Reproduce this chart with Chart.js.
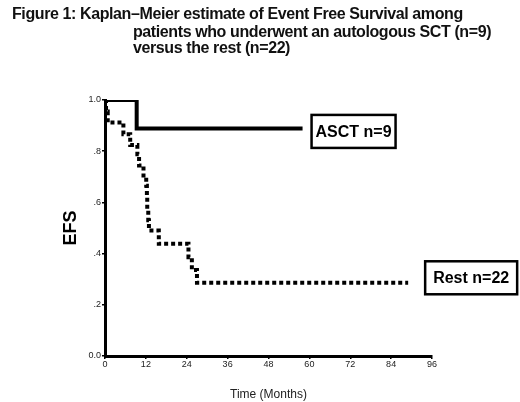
<!DOCTYPE html>
<html><head><meta charset="utf-8">
<script src="https://cdn.jsdelivr.net/npm/chart.js@4.4.1/dist/chart.umd.min.js"></script>
<style>
html,body{margin:0;padding:0;background:#fff;}
#wrap{position:relative;width:520px;height:402px;overflow:hidden;}
#chart{position:absolute;left:0;top:0;}
.t{position:absolute;font-family:"Liberation Sans",Arial,sans-serif;font-weight:bold;font-size:16px;letter-spacing:-0.4px;color:#111;white-space:nowrap;line-height:16px;}
</style></head><body>
<div id="wrap">
<canvas id="chart" width="520" height="402"></canvas>
<div class="t" style="left:12px;top:6px">Figure 1: Kaplan–Meier estimate of Event Free Survival among</div>
<div class="t" style="left:133px;top:24px">patients who underwent an autologous SCT (n=9)</div>
<div class="t" style="left:133px;top:40px">versus the rest (n=22)</div>
</div>
<script>
// ---- data ----
const seriesNames = ['ASCT n=9', 'Rest n=22'];
const ascTimes = [0, 9.3, 58];
const ascEFS   = [1.0, 0.889, 0.889];
const restTimes = [0, 0.3, 0.8, 5.4, 7.4, 9.5, 10.0, 11.3, 12.1, 12.3, 12.4, 12.7, 12.9, 15.8, 24.5, 25.5, 27.0, 89];
const restEFS   = [1.0, 0.955, 0.912, 0.866, 0.824, 0.788, 0.744, 0.705, 0.665, 0.620, 0.575, 0.530, 0.490, 0.438, 0.386, 0.336, 0.286, 0.286];
const xTickValues = [0, 12, 24, 36, 48, 60, 72, 84, 96];
const yTickValues = [0, 0.2, 0.4, 0.6, 0.8, 1.0];
const yTickLabels = ['0.0', '.2', '.4', '.6', '.8', '1.0'];
const xTitle = 'Time (Months)';
const yTitle = 'EFS';

const toPts = (ts, vs) => ts.map((t, i) => ({x: t, y: vs[i]}));

// label box styles (per dataset)
const boxStyle = [
  {gap: 9, dy: 3, w: 84, h: 33},
  {gap: 17, dy: -5, w: 92, h: 33}
];

const labelBoxes = {
  id: 'labelBoxes',
  afterDatasetsDraw(chart) {
    const {ctx, scales: {x, y}} = chart;
    ctx.save();
    chart.data.datasets.forEach((ds, i) => {
      const last = ds.data[ds.data.length - 1];
      const px = x.getPixelForValue(last.x);
      const py = y.getPixelForValue(last.y);
      const s = boxStyle[i];
      const left = px + s.gap;
      const top = py + s.dy - s.h / 2;
      ctx.lineWidth = 2.5;
      ctx.strokeStyle = '#000';
      ctx.strokeRect(left, top, s.w, s.h);
      ctx.fillStyle = '#000';
      ctx.font = 'bold 16px "Liberation Sans", Arial, sans-serif';
      ctx.textAlign = 'center';
      ctx.textBaseline = 'middle';
      ctx.fillText(ds.label, left + s.w / 2, top + s.h / 2 + 1);
    });
    ctx.restore();
  }
};

const tickFont = {family: '"Liberation Sans", Arial, sans-serif', size: 9};

new Chart(document.getElementById('chart'), {
  type: 'line',
  data: {
    datasets: [
      {label: seriesNames[0], data: toPts(ascTimes, ascEFS), stepped: true,
       borderColor: '#000', borderWidth: 4, pointRadius: 0, fill: false},
      {label: seriesNames[1], data: toPts(restTimes, restEFS), stepped: true,
       borderColor: '#000', borderWidth: 4, borderDash: [4, 3], borderCapStyle: 'butt',
       pointRadius: 0, fill: false}
    ]
  },
  options: {
    responsive: false,
    animation: false,
    devicePixelRatio: 1,
    layout: {padding: {left: 0, top: 100, right: 88, bottom: 0}},
    plugins: {legend: {display: false}, tooltip: {enabled: false}},
    scales: {
      x: {
        type: 'linear', min: 0, max: 96,
        afterBuildTicks(s) { s.ticks = xTickValues.map(v => ({value: v})); },
        afterFit(s) { s.height = 46; },
        ticks: {font: tickFont, color: '#222', padding: 0, maxRotation: 0},
        grid: {drawOnChartArea: false, tickLength: 3, color: '#000', lineWidth: 1.5},
        border: {color: '#000', width: 3},
        title: {display: true, text: xTitle, color: '#222',
                font: {family: '"Liberation Sans", Arial, sans-serif', size: 12},
                padding: {top: 0, bottom: 0}}
      },
      y: {
        type: 'linear', min: 0, max: 1,
        afterBuildTicks(s) { s.ticks = yTickValues.map(v => ({value: v})); },
        afterFit(s) { s.width = 105; },
        ticks: {font: tickFont, color: '#222', padding: 1,
                callback: (v, i) => yTickLabels[i]},
        grid: {drawOnChartArea: false, tickLength: 3, color: '#000', lineWidth: 1.5},
        border: {color: '#000', width: 3},
        title: {display: true, text: yTitle, color: '#000',
                font: {family: '"Liberation Sans", Arial, sans-serif', size: 18, weight: 'bold'},
                padding: {top: 60, bottom: 0}}
      }
    }
  },
  plugins: [labelBoxes]
});
</script>
</body></html>
